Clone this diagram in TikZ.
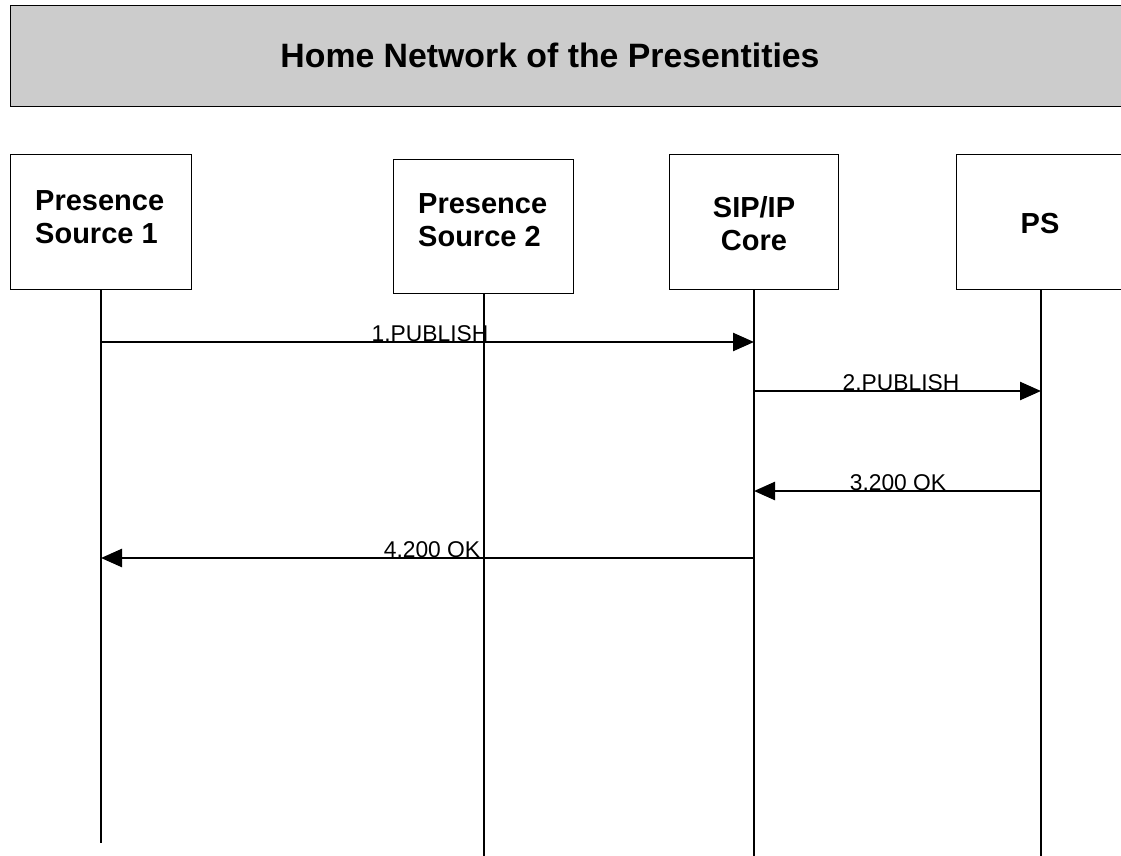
\documentclass[tikz,border=0pt]{standalone}
\usepackage{fontspec}
\setmainfont{Liberation Sans}
\usetikzlibrary{arrows.meta}
\begin{document}
\begin{tikzpicture}[x=1pt,y=-1pt,
  entity/.style={draw,line width=1.3pt,fill=white,inner sep=0pt,anchor=north west},
  etext/.style={inner sep=0pt,font=\fontsize{29}{33}\selectfont\bfseries},
  life/.style={line width=1.3pt},
  msg/.style={line width=2.5pt,-{Triangle[length=21pt,width=18pt]}},
  lbl/.style={anchor=base,inner sep=0pt,font=\fontsize{22.8}{26}\selectfont}
]
\useasboundingbox (0,0) rectangle (1121,856);
% banner
\node[draw,line width=1.3pt,fill=gray!40,minimum width=1125pt,minimum height=101pt,
  anchor=north west,inner sep=0pt] (banner) at (10,5) {};
\node[font=\fontsize{33.8}{38}\selectfont\bfseries] (title) at (550,55) {Home Network of the Presentities};
% entity boxes
\node[entity,minimum width=181pt,minimum height=135pt] (b1) at (10,154) {};
\node[entity,minimum width=180pt,minimum height=134pt] (b2) at (393,159) {};
\node[entity,minimum width=169pt,minimum height=135pt] (b3) at (669,154) {};
\node[entity,minimum width=170pt,minimum height=135pt] (b4) at (956,154) {};
\node[etext,align=left,anchor=west] (t1) at (35,217) {Presence\\Source 1};
\node[etext,align=left,anchor=west] (t2) at (418,220) {Presence\\Source 2};
\node[etext,align=center] (t3) at (754,224) {SIP/IP\\Core};
\node[etext] (t4) at (1040,224) {PS};
% lifeline ends
\coordinate (e1) at (101,843);
\coordinate (e2) at (484,856);
\coordinate (e3) at (754,856);
\coordinate (e4) at (1041,856);
\draw[life] (b1.south -| e1) -- (e1);
\draw[life] (b2.south -| e2) -- (e2);
\draw[life] (b3.south -| e3) -- (e3);
\draw[life] (b4.south -| e4) -- (e4);
% message points
\coordinate (m1a) at (101,342); \coordinate (m1b) at (754,342);
\coordinate (m2a) at (754,391); \coordinate (m2b) at (1041,391);
\coordinate (m3a) at (1041,491); \coordinate (m3b) at (754,491);
\coordinate (m4a) at (754,558); \coordinate (m4b) at (101,558);
\draw[msg] (m1a) -- (m1b);
\draw[msg] (m2a) -- (m2b);
\draw[msg] (m3a) -- (m3b);
\draw[msg] (m4a) -- (m4b);
\node[lbl] (l1) at (430,341) {1.PUBLISH};
\node[lbl] (l2) at (901,390) {2.PUBLISH};
\node[lbl] (l3) at (898,490) {3.200 OK};
\node[lbl] (l4) at (432,557) {4.200 OK};
\end{tikzpicture}
\end{document}
